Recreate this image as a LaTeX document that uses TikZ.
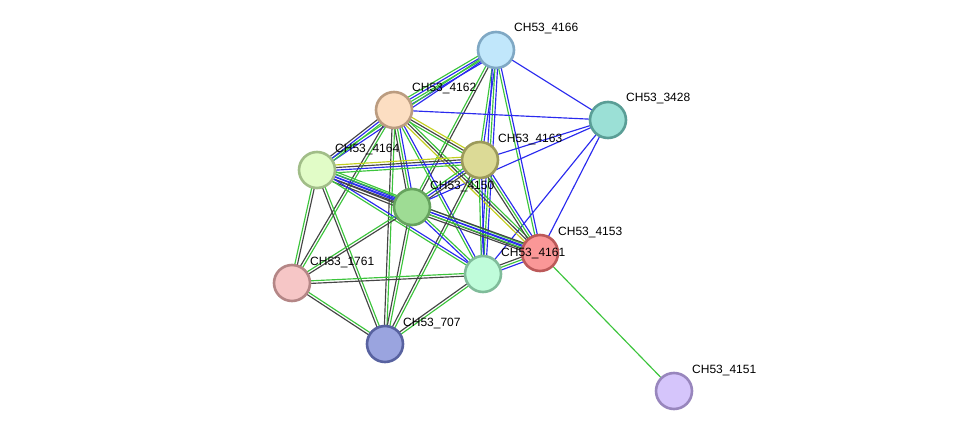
\documentclass[tikz,border=0pt]{standalone}
\usepackage{fontspec}
\setmainfont{Liberation Sans}
\usetikzlibrary{calc}
\pgfdeclarelayer{bg}
\pgfsetlayers{bg,main}
\definecolor{eg}{HTML}{3CC43C}
\definecolor{eb}{HTML}{2A2AEE}
\definecolor{ek}{HTML}{454545}
\definecolor{ey}{HTML}{C3CF1E}
\tikzset{
  prot/.style={circle, minimum size=36pt, inner sep=0pt, line width=2.6pt},
  plabel/.style={anchor=base west, inner sep=0pt, font=\fontsize{12}{14}\selectfont, text=black},
  elink/.style={line width=1.15pt}
}
\newcommand\stredge[3]{%
  \foreach \c [count=\k] in {#3}{\xdef\nlines{\k}}%
  \foreach \c [count=\k] in {#3}{%
    \pgfmathsetmacro\off{(\k-1-(\nlines-1)/2)*2.6}%
    \draw[elink, draw=\c] ($(#1.center)!\off pt!90:(#2.center)$) -- ($(#2.center)!\off pt!-90:(#1.center)$);
  }%
}
\newcommand\plbl[2]{\node[plabel] (l#1) at ($(#1.center)+(18,-18)$) {#2};}
\begin{document}
\begin{tikzpicture}[x=1pt,y=-1pt]
\path[use as bounding box] (0,0) rectangle (975,436);
% nodes
\node[prot, fill={rgb,255:red,193;green,231;blue,251}, draw={rgb,255:red,127;green,168;blue,196}] (A) at (496,50) {};
\node[prot, fill={rgb,255:red,155;green,224;blue,214}, draw={rgb,255:red,90;green,158;blue,150}] (B) at (608,120) {};
\node[prot, fill={rgb,255:red,252;green,222;blue,194}, draw={rgb,255:red,187;green,156;blue,128}] (C) at (394,110) {};
\node[prot, fill={rgb,255:red,220;green,218;blue,150}, draw={rgb,255:red,156;green,154;blue,90}] (D) at (480,160) {};
\node[prot, fill={rgb,255:red,225;green,252;blue,199}, draw={rgb,255:red,161;green,189;blue,136}] (E) at (317,170) {};
\node[prot, fill={rgb,255:red,158;green,220;blue,148}, draw={rgb,255:red,102;green,163;blue,94}] (F) at (412,207) {};
\node[prot, fill={rgb,255:red,250;green,151;blue,151}, draw={rgb,255:red,188;green,89;blue,89}] (G) at (540,253) {};
\node[prot, fill={rgb,255:red,191;green,252;blue,218}, draw={rgb,255:red,128;green,188;blue,154}] (H) at (483,274) {};
\node[prot, fill={rgb,255:red,246;green,198;blue,198}, draw={rgb,255:red,180;green,134;blue,134}] (I) at (292,283) {};
\node[prot, fill={rgb,255:red,154;green,164;blue,223}, draw={rgb,255:red,88;green,98;blue,160}] (J) at (385,344) {};
\node[prot, fill={rgb,255:red,213;green,197;blue,251}, draw={rgb,255:red,152;green,134;blue,189}] (K) at (674,391) {};
% edges
\begin{pgfonlayer}{bg}
\stredge{A}{B}{eb}
\stredge{A}{C}{eg,eb,eg,eb}
\stredge{A}{E}{eg,eb}
\stredge{A}{D}{eg,eb}
\stredge{A}{F}{eg,ek}
\stredge{A}{H}{eb,eg,eb}
\stredge{A}{G}{eg,eb}
\stredge{B}{C}{eb}
\stredge{B}{D}{eb}
\stredge{B}{F}{eb}
\stredge{B}{H}{eb}
\stredge{B}{G}{eb}
\stredge{C}{D}{eg,ek,ey}
\stredge{C}{E}{ek,eb,eg}
\stredge{C}{F}{ek,eg,eb}
\stredge{C}{H}{eg,eb}
\stredge{C}{G}{ey,ek,eg}
\stredge{C}{I}{ek,eg}
\stredge{C}{J}{ek,eg}
\stredge{D}{E}{ey,ek,eb,eg}
\stredge{D}{F}{eg,eb,ek}
\stredge{D}{H}{eg,eb}
\stredge{D}{G}{ek,eg,eb}
\stredge{D}{J}{ek,eg}
\stredge{E}{F}{ek,ek,eb,eb,eg}
\stredge{E}{G}{ek,eb,eg}
\stredge{E}{H}{eg,eb}
\stredge{E}{I}{eg,ek}
\stredge{E}{J}{ek,eg}
\stredge{F}{G}{ek,eg,eb,ek}
\stredge{F}{H}{eb,eg}
\stredge{F}{I}{eg,ek}
\stredge{F}{J}{ek,eg}
\stredge{G}{H}{ek,eg,eb}
\stredge{G}{K}{eg}
\stredge{H}{I}{eg,ek}
\stredge{H}{J}{ek,eg}
\stredge{I}{J}{ek,eg}
\end{pgfonlayer}
% labels
\plbl{A}{CH53\_4166}
\plbl{B}{CH53\_3428}
\plbl{C}{CH53\_4162}
\plbl{D}{CH53\_4163}
\plbl{E}{CH53\_4164}
\plbl{F}{CH53\_4150}
\plbl{G}{CH53\_4153}
\plbl{H}{CH53\_4161}
\plbl{I}{CH53\_1761}
\plbl{J}{CH53\_707}
\plbl{K}{CH53\_4151}
\end{tikzpicture}
\end{document}
